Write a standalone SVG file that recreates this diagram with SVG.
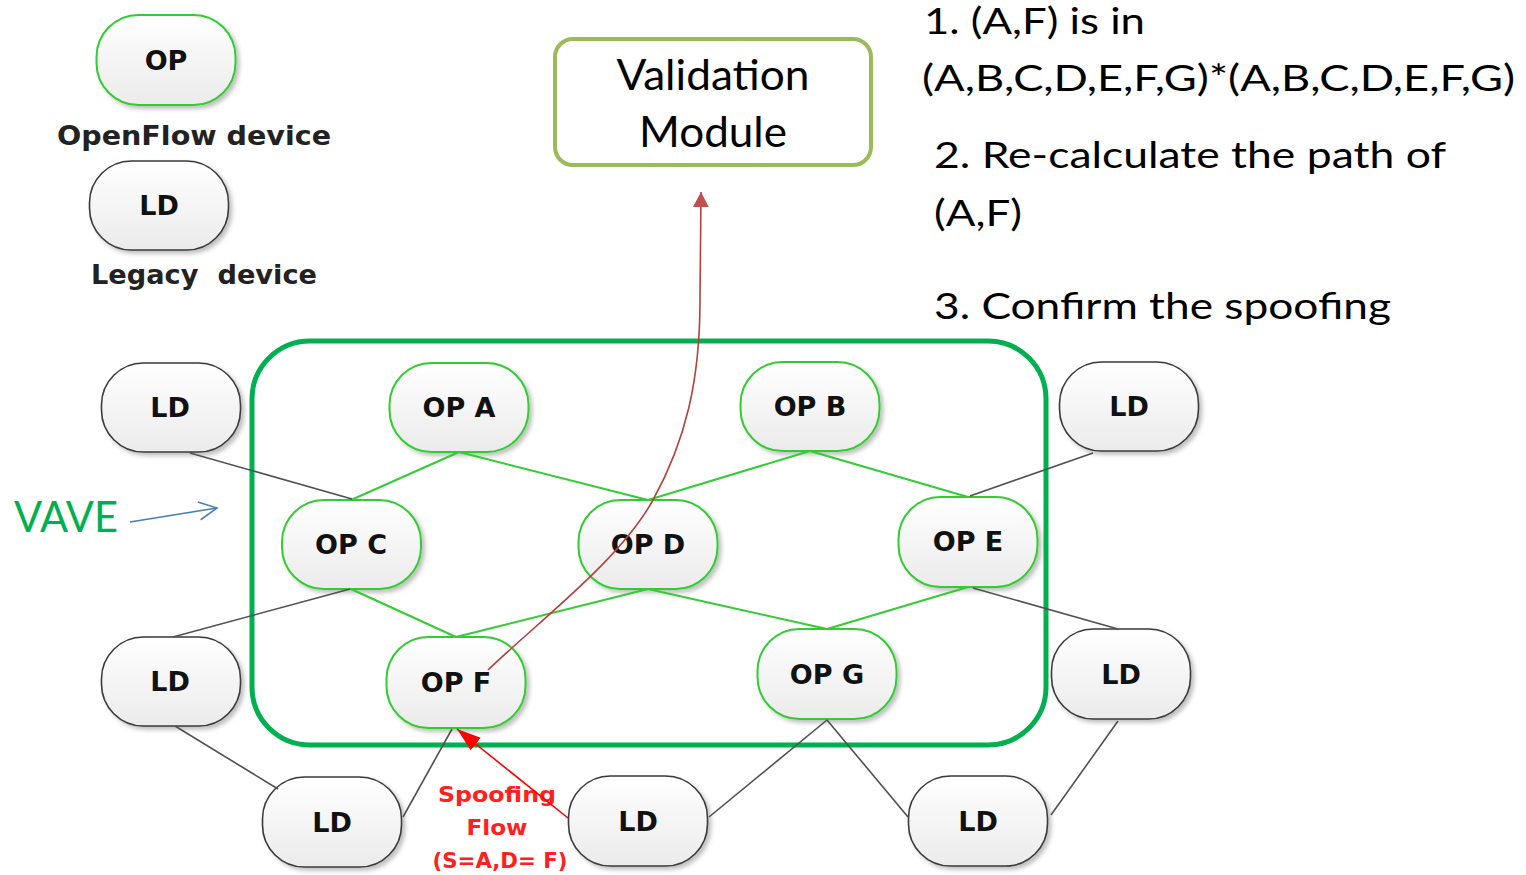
<svg xmlns="http://www.w3.org/2000/svg" width="1526" height="875" viewBox="0 0 1526 875">
<style>
.op rect{fill:url(#nodeFill);stroke:#33cc33;stroke-width:2;filter:url(#shadow)}
.ld rect{fill:url(#nodeFill);stroke:#3a3a3a;stroke-width:1.6;filter:url(#shadow)}
.lbl{font-family:"DejaVu Sans","Liberation Sans",sans-serif;font-weight:bold;font-size:27px;fill:#111;text-anchor:middle}
.leg{font-family:"DejaVu Sans","Liberation Sans",sans-serif;font-weight:bold;font-size:26px;fill:#222;white-space:pre}
.note{font-family:Lato,"Liberation Sans",sans-serif;font-size:37px;fill:#000}
.vm{font-family:Lato,"Liberation Sans",sans-serif;font-size:42px;fill:#000;text-anchor:middle}
.spoof{font-family:"DejaVu Sans","Liberation Sans",sans-serif;font-weight:bold;font-size:22px;fill:#ff2020;text-anchor:middle}
.g{stroke:#33cc33;stroke-width:2;fill:none}
.k{stroke:#505050;stroke-width:1.6;fill:none}
</style>
<defs>
<linearGradient id="nodeFill" x1="0" y1="0" x2="0" y2="1">
<stop offset="0" stop-color="#ffffff"/>
<stop offset="1" stop-color="#ebebeb"/>
</linearGradient>
<filter id="shadow" x="-20%" y="-20%" width="150%" height="150%">
<feDropShadow dx="3" dy="3" stdDeviation="2" flood-color="#000" flood-opacity="0.25"/>
</filter>
<marker id="redHead" markerUnits="userSpaceOnUse" markerWidth="26" markerHeight="18" refX="24" refY="8" orient="auto">
<path d="M0,0 L24,8 L0,16 z" fill="#ff0000"/>
</marker>
<marker id="darkRedHead" markerUnits="userSpaceOnUse" markerWidth="18" markerHeight="18" refX="15" refY="8" orient="auto">
<path d="M0,0 L15,8 L0,16 z" fill="#c0504d"/>
</marker>
<marker id="openHead" markerUnits="userSpaceOnUse" markerWidth="22" markerHeight="22" refX="19" refY="10" orient="auto">
<path d="M1,1 L19,10 L1,19" fill="none" stroke="#4a7ebb" stroke-width="1.6"/>
</marker>
</defs>
<rect width="1526" height="875" fill="#fff"/>

<!-- legend -->
<g id="legend-op" class="op"><rect x="96.5" y="15" width="139" height="90" rx="42"/><text class="lbl" x="166" y="70">OP</text></g>
<text class="leg" x="57" y="145" textLength="274" lengthAdjust="spacingAndGlyphs">OpenFlow device</text>
<g id="legend-ld" class="ld"><rect x="89.5" y="161" width="139" height="89" rx="42"/><text class="lbl" x="159" y="215">LD</text></g>
<text class="leg" x="91" y="284" textLength="226" lengthAdjust="spacingAndGlyphs">Legacy  device</text>

<!-- validation module -->
<g id="validation-module">
<rect x="555" y="39" width="316" height="126" rx="18" fill="#fff" stroke="#9bbb59" stroke-width="4"/>
<text class="vm" x="713" y="90" textLength="193" lengthAdjust="spacingAndGlyphs">Validation</text>
<text class="vm" x="713" y="147" textLength="148" lengthAdjust="spacingAndGlyphs">Module</text>
</g>

<!-- notes -->
<g id="notes">
<text class="note" x="924" y="34" textLength="221" lengthAdjust="spacingAndGlyphs">1. (A,F) is in</text>
<text class="note" x="922" y="91" textLength="593" lengthAdjust="spacingAndGlyphs">(A,B,C,D,E,F,G)*(A,B,C,D,E,F,G)</text>
<text class="note" x="934" y="168" textLength="512" lengthAdjust="spacingAndGlyphs">2. Re-calculate the path of</text>
<text class="note" x="934" y="226" textLength="88" lengthAdjust="spacingAndGlyphs">(A,F)</text>
<text class="note" x="934" y="319" textLength="457" lengthAdjust="spacingAndGlyphs">3. Confirm the spoofing</text>
</g>

<!-- VAVE container -->
<g id="vave">
<rect x="252" y="341" width="794" height="404" rx="58" fill="none" stroke="#00b050" stroke-width="5"/>
<text x="14" y="532" font-family="Lato,'Liberation Sans',sans-serif" font-size="42" fill="#00b050" textLength="104" lengthAdjust="spacingAndGlyphs">VAVE</text>
</g>

<!-- nodes -->
<g id="ld-tl" class="ld"><rect x="101.5" y="363" width="139" height="89" rx="42"/><text class="lbl" x="170" y="417">LD</text></g>
<g id="op-a" class="op"><rect x="389.5" y="363" width="139" height="89" rx="42"/><text class="lbl" x="459" y="417">OP A</text></g>
<g id="op-b" class="op"><rect x="740.5" y="362" width="139" height="89" rx="42"/><text class="lbl" x="810" y="416">OP B</text></g>
<g id="ld-tr" class="ld"><rect x="1059.5" y="362" width="139" height="89" rx="42"/><text class="lbl" x="1129" y="416">LD</text></g>
<g id="op-c" class="op"><rect x="282" y="500" width="139" height="89" rx="42"/><text class="lbl" x="351" y="554">OP C</text></g>
<g id="op-d" class="op"><rect x="578.5" y="500" width="139" height="89" rx="42"/><text class="lbl" x="648" y="554">OP D</text></g>
<g id="op-e" class="op"><rect x="898.5" y="497" width="139" height="90" rx="42"/><text class="lbl" x="968" y="551">OP E</text></g>
<g id="ld-ml" class="ld"><rect x="101.5" y="637" width="139" height="89" rx="42"/><text class="lbl" x="170" y="691">LD</text></g>
<g id="op-f" class="op"><rect x="386.5" y="637" width="139" height="91" rx="42"/><text class="lbl" x="456" y="692">OP F</text></g>
<g id="op-g" class="op"><rect x="757.5" y="629" width="139" height="90" rx="42"/><text class="lbl" x="827" y="684">OP G</text></g>
<g id="ld-mr" class="ld"><rect x="1051.5" y="629" width="139" height="90" rx="42"/><text class="lbl" x="1121" y="684">LD</text></g>
<g id="ld-b1" class="ld"><rect x="262.5" y="777" width="139" height="90" rx="42"/><text class="lbl" x="332" y="832">LD</text></g>
<g id="ld-b2" class="ld"><rect x="568.5" y="776" width="139" height="90" rx="42"/><text class="lbl" x="638" y="831">LD</text></g>
<g id="ld-b3" class="ld"><rect x="908.5" y="776" width="139" height="90" rx="42"/><text class="lbl" x="978" y="831">LD</text></g>

<!-- spoofing label -->
<g id="spoofing-label">
<text class="spoof" x="497" y="802" textLength="118" lengthAdjust="spacingAndGlyphs">Spoofing</text>
<text class="spoof" x="497" y="835" textLength="61" lengthAdjust="spacingAndGlyphs">Flow</text>
<text class="spoof" x="500" y="868" textLength="135" lengthAdjust="spacingAndGlyphs">(S=A,D= F)</text>
</g>

<!-- connectors -->
<g id="connectors">
<line class="g" x1="459" y1="452" x2="351" y2="500"/>
<line class="g" x1="459" y1="452" x2="648" y2="500"/>
<line class="g" x1="810" y1="451" x2="648" y2="500"/>
<line class="g" x1="810" y1="451" x2="968" y2="497"/>
<line class="g" x1="351" y1="589" x2="456" y2="637"/>
<line class="g" x1="648" y1="589" x2="456" y2="637"/>
<line class="g" x1="648" y1="589" x2="827" y2="629"/>
<line class="g" x1="968" y1="587" x2="827" y2="629"/>
<line class="k" x1="190" y1="453" x2="352" y2="499"/>
<line class="k" x1="1093" y1="453" x2="970" y2="496"/>
<line class="k" x1="350" y1="589" x2="173" y2="637"/>
<line class="k" x1="973" y1="588" x2="1118" y2="629"/>
<line class="k" x1="175" y1="726" x2="278" y2="789"/>
<line class="k" x1="403" y1="817" x2="452" y2="729"/>
<line class="k" x1="827" y1="720" x2="709" y2="817"/>
<line class="k" x1="827" y1="720" x2="908" y2="817"/>
<line class="k" x1="1118" y1="721" x2="1051" y2="815"/>
<line x1="130" y1="522" x2="217" y2="508" stroke="#4a7ebb" stroke-width="1.6" marker-end="url(#openHead)"/>
<path d="M488,670 C540,620 620,560 653,500 C686,440 700,380 700,300 L701,192" fill="none" stroke="#b2403d" stroke-width="1.6" marker-end="url(#darkRedHead)"/>
<line x1="568" y1="818" x2="457" y2="729" stroke="#ff0000" stroke-width="1.6" marker-end="url(#redHead)"/>
</g>
</svg>
